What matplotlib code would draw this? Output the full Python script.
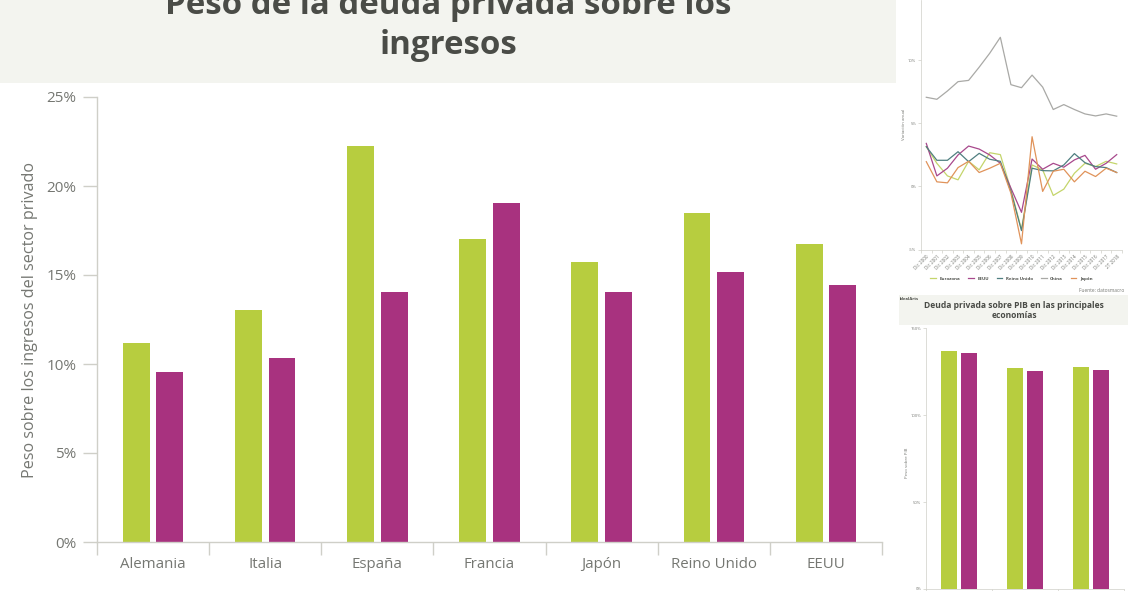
#-*- coding: utf-8 -*-

import numpy as np
import matplotlib
matplotlib.use("Agg")
import matplotlib.pyplot as plt

W, H = 1128, 591

plt.rcParams['font.family'] = ['Open Sans', 'DejaVu Sans']

# grafico principal
paises = ["Alemania", "Italia", "España", "Francia", "Japón", "Reino Unido", "EEUU"]
peso_verde = [11.2, 13.05, 22.25, 17.0, 15.75, 18.5, 16.75]
peso_morado = [9.55, 10.35, 14.05, 19.05, 14.05, 15.15, 14.45]
yticks_main = [0, 5, 10, 15, 20, 25]

# grafico de lineas
fechas = ["Dic 2000", "Dic 2001", "Dic 2002", "Dic 2003", "Dic 2004", "Dic 2005", "Dic 2006",
          "Dic 2007", "Dic 2008", "Dic 2009", "Dic 2010", "Dic 2011", "Dic 2012", "Dic 2013",
          "Dic 2014", "Dic 2015", "Dic 2016", "Dic 2017", "2T 2018"]
eurozona = [3.16, 1.84, 0.84, 0.53, 2.0, 1.32, 2.68, 2.53, -0.26, -3.42, 1.71, 1.32, -0.71, -0.21, 1.05, 1.84, 1.58, 2.0, 1.79]
eeuu = [3.42, 0.84, 1.45, 2.5, 3.21, 2.97, 2.5, 1.84, -0.13, -2.05, 2.18, 1.37, 1.84, 1.53, 2.11, 2.47, 1.37, 1.84, 2.53]
reino_unido = [3.16, 2.08, 2.08, 2.76, 1.97, 2.63, 2.16, 2.0, -0.39, -3.5, 1.45, 1.26, 1.24, 1.71, 2.61, 1.89, 1.58, 1.5, 1.11]
china = [7.08, 6.92, 7.58, 8.32, 8.42, 9.47, 10.58, 11.84, 8.08, 7.84, 8.84, 7.89, 6.11, 6.5, 6.11, 5.76, 5.6, 5.76, 5.58]
japon = [1.97, 0.37, 0.29, 1.5, 2.0, 1.11, 1.45, 1.84, -0.53, -4.55, 3.95, -0.39, 1.21, 1.37, 0.37, 1.21, 0.79, 1.45, 1.11]
yticks_lineas = [-5, 0, 5, 10]

# grafico PIB
pib_verde = [137, 127, 127.8]
pib_morado = [136, 125.3, 126.3]
yticks_pib = [0, 50, 100, 150]

VERDE = "#b7cd3f"
MORADO = "#a8327f"
FONDO = "#f3f4ef"
EJE = "#cfcfc8"
TEXTO = "#757772"
TITULO = "#4a4c47"


def caja(x0, y0, x1, y1):
    # convierte pixeles (origen arriba a la izquierda) en una caja de axes
    return [x0 / W, 1 - y1 / H, (x1 - x0) / W, (y1 - y0) / H]


def limpia(ax, lw=1.0):
    ax.spines['top'].set_visible(False)
    ax.spines['right'].set_visible(False)
    ax.spines['left'].set_color(EJE)
    ax.spines['bottom'].set_color(EJE)
    ax.spines['left'].set_linewidth(lw)
    ax.spines['bottom'].set_linewidth(lw)


fig = plt.figure(figsize=(W / 100, H / 100), dpi=100, facecolor="white")

# bandas de titulo
fig.patches.append(plt.Rectangle((0, 1 - 83 / H), 896 / W, 83 / H, transform=fig.transFigure, color=FONDO, lw=0))
fig.patches.append(plt.Rectangle((899 / W, 1 - 325 / H), 229 / W, 30 / H, transform=fig.transFigure, color=FONDO, lw=0))

# el titulo sale cortado por arriba, igual que en la captura original
fig.text(448 / W, 1 - 5 / H, "Peso de la deuda privada sobre los", ha="center", va="center",
         fontsize=23.75, fontweight="bold", color=TITULO)
fig.text(448 / W, 1 - 46 / H, "ingresos", ha="center", va="center",
         fontsize=23.75, fontweight="bold", color=TITULO)

# principal
ax = fig.add_axes(caja(97, 97, 882, 542))
x = np.arange(len(paises))
ax.bar(x - 0.15, peso_verde, 0.24, color=VERDE)
ax.bar(x + 0.15, peso_morado, 0.24, color=MORADO)
ax.set_xlim(-0.5, len(paises) - 0.5)
ax.set_ylim(0, 25)
ax.set_yticks(yticks_main)
ax.set_yticklabels(["%d%%" % v for v in yticks_main])
ax.set_xticks(np.arange(len(paises) + 1) - 0.5)
ax.set_xticklabels([])
ax.set_xticks(x, minor=True)
ax.set_xticklabels(paises, minor=True)
ax.tick_params(axis='x', which='major', length=9.4, color=EJE, width=1)
ax.tick_params(axis='x', which='minor', length=0, pad=10.5, labelsize=10.8, labelcolor=TEXTO)
ax.tick_params(axis='y', length=10, color=EJE, width=1, pad=5, labelsize=11, labelcolor=TEXTO)
ax.set_ylabel("Peso sobre los ingresos del sector privado", fontsize=11.6, color=TEXTO)
ax.yaxis.set_label_coords((38 - 97) / 785, 0.5)
limpia(ax)

# lineas
ax2 = fig.add_axes(caja(921, 0, 1122, 249.5))
t = np.arange(len(fechas))
ax2.plot(t, eurozona, color="#c4d56b", lw=0.9, label="Eurozona")
ax2.plot(t, eeuu, color="#a8488c", lw=0.9, label="EEUU")
ax2.plot(t, reino_unido, color="#4f7f80", lw=0.9, label="Reino Unido")
ax2.plot(t, china, color="#a9a9a6", lw=0.9, label="China")
ax2.plot(t, japon, color="#e0935a", lw=0.9, label="Japón")
ax2.set_xlim(-0.5, len(fechas) - 0.5)
ax2.set_ylim(-5, 14.8)
ax2.set_yticks(yticks_lineas)
ax2.set_yticklabels(["%d%%" % v for v in yticks_lineas])
ax2.set_xticks(np.arange(len(fechas) + 1) - 0.5)
ax2.set_xticklabels([])
ax2.set_xticks(t, minor=True)
ax2.set_xticklabels(fechas, minor=True, rotation=45, ha="right", rotation_mode="anchor")
ax2.tick_params(axis='x', which='major', length=2, width=0.5, color=EJE)
ax2.tick_params(axis='x', which='minor', length=0, pad=3.5, labelsize=3.3, labelcolor=TEXTO)
ax2.tick_params(axis='y', length=2, width=0.5, color=EJE, pad=1.5, labelsize=3, labelcolor=TEXTO)
ax2.set_ylabel("Variación anual", fontsize=3.2, color=TEXTO, labelpad=1.5)
limpia(ax2, 0.5)
ax2.legend(loc="upper center", bbox_to_anchor=(0.45, -0.092), ncol=5, frameon=False,
           handlelength=1.3, columnspacing=1.75, labelcolor=TITULO, prop={'size': 3.2, 'weight': 'bold'})

fig.text(1124 / W, 1 - 291 / H, "Fuente: datosmacro", ha="right", va="center", fontsize=3.5, color=TEXTO)

fig.text(900 / W, 1 - 299 / H, "IdealArts", ha="left", va="center", fontsize=3, fontweight="bold", color=TITULO)
fig.text(1014 / W, 1 - 305 / H, "Deuda privada sobre PIB en las principales", ha="center", va="center",
         fontsize=6.1, fontweight="bold", color=TITULO)
fig.text(1014 / W, 1 - 315.5 / H, "economías", ha="center", va="center",
         fontsize=6.1, fontweight="bold", color=TITULO)

# PIB
ax3 = fig.add_axes(caja(926, 328.5, 1124, 589))
g = np.arange(len(pib_verde))
ax3.bar(g - 0.15, pib_verde, 0.24, color=VERDE)
ax3.bar(g + 0.15, pib_morado, 0.24, color=MORADO)
ax3.set_xlim(-0.5, 2.5)
ax3.set_ylim(0, 150)
ax3.set_yticks(yticks_pib)
ax3.set_yticklabels(["%d%%" % v for v in yticks_pib])
ax3.set_xticks([-0.5, 0.5, 1.5, 2.5])
ax3.set_xticklabels([])
ax3.tick_params(axis='both', length=2, width=0.5, color=EJE, pad=1.5, labelsize=3, labelcolor=TEXTO)
ax3.set_ylabel("Peso sobre PIB", fontsize=3.2, color=TEXTO)
ax3.yaxis.set_label_coords((909 - 926) / 198, 0.485)
limpia(ax3, 0.5)

fig.savefig("out.png", dpi=100)
